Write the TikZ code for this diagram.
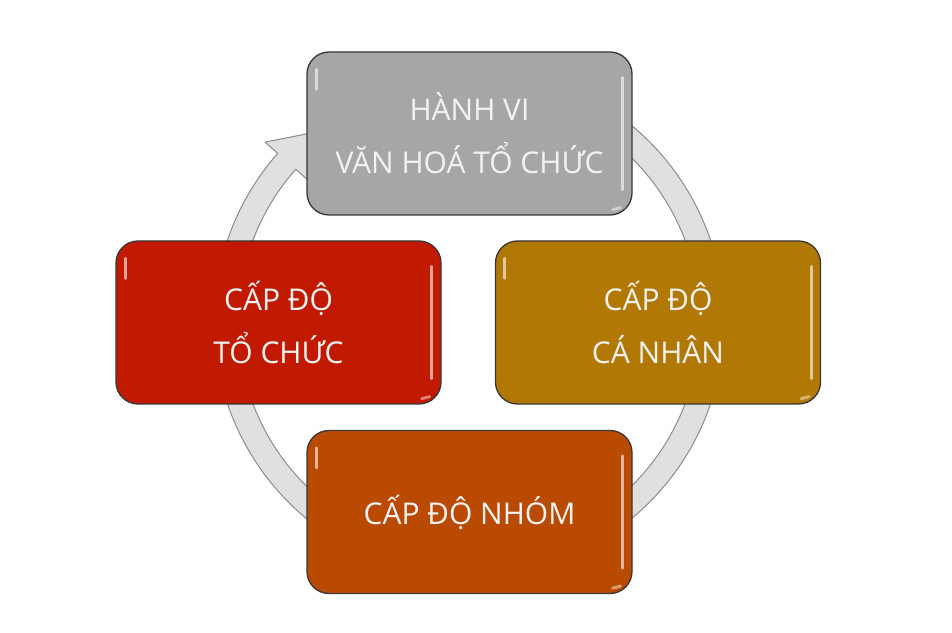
\documentclass[tikz,border=0pt]{standalone}
\usepackage{fontspec}
\setmainfont{Open Sans}
\definecolor{greybox}{RGB}{166,166,166}
\definecolor{redbox}{RGB}{194,26,0}
\definecolor{goldbox}{RGB}{178,120,4}
\definecolor{orangebox}{RGB}{186,74,0}
\definecolor{ringfill}{RGB}{224,224,224}
\definecolor{ringline}{RGB}{140,140,140}
\definecolor{boxline}{RGB}{55,55,55}
\definecolor{txt}{RGB}{242,242,242}
\tikzset{
  cyclebox/.style={rectangle, rounded corners=22pt, minimum width=325pt, minimum height=163pt,
    draw=boxline, line width=1.3pt, text=txt, align=center,
    font=\fontsize{30}{53}\selectfont},
  hl/.style={line width=3pt, line cap=round, draw=white, opacity=0.6},
}
\begin{document}
\begin{tikzpicture}[x=1pt,y=1pt]
\fill[white] (0,0) rectangle (952,632);
\useasboundingbox (0,0) rectangle (952,632);
\coordinate (C) at (469,310);
% ring with arrow head
\filldraw[fill=ringfill, draw=ringline, line width=1pt, line join=round]
  ([shift={(138.6:214pt)}]C) -- ([shift={(138.6:231pt)}]C)
  arc[start angle=138.6, end angle=480, radius=231pt]
  -- ([shift={(480:255pt)}]C)
  arc[start angle=480, end angle=138.6, radius=255pt]
  -- ([shift={(138.6:272pt)}]C) -- ([shift={(127:240pt)}]C) -- cycle;
% boxes
\node[cyclebox, fill=greybox] (top) at (469.5,498.5) {HÀNH VI\\VĂN HOÁ TỔ CHỨC};
\node[cyclebox, fill=redbox] (left) at (278.5,309.5) {CẤP ĐỘ\\TỔ CHỨC};
\node[cyclebox, fill=goldbox] (right) at (658,309.5) {CẤP ĐỘ\\CÁ NHÂN};
\node[cyclebox, fill=orangebox] (bottom) at (469.5,120) {CẤP ĐỘ NHÓM};
% highlights
\foreach \b in {top,left,right,bottom}{
  \draw[hl] ([xshift=-10pt,yshift=-26pt]\b.north east) -- ([xshift=-10pt,yshift=26pt]\b.south east);
  \draw[hl] ([xshift=10pt,yshift=-18pt]\b.north west) -- ([xshift=10pt,yshift=-38pt]\b.north west);
  \draw[hl, opacity=0.45] ([xshift=-12pt,yshift=8pt]\b.south east) -- ([xshift=-20pt,yshift=6pt]\b.south east);
}
\end{tikzpicture}
\end{document}
